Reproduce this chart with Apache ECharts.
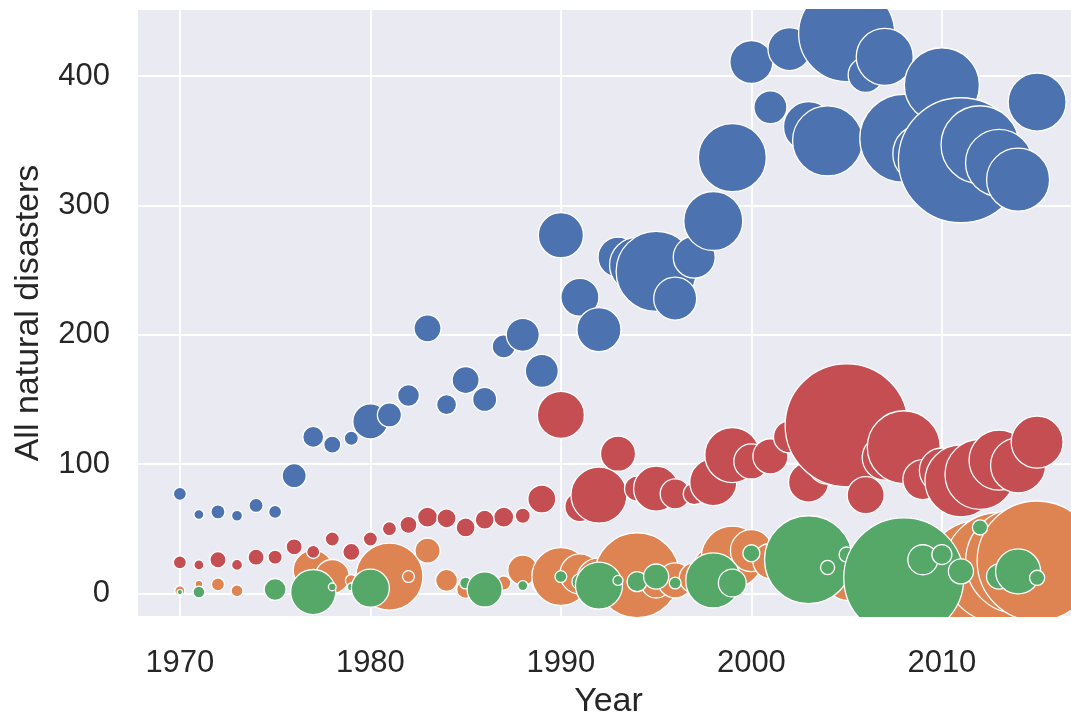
<!DOCTYPE html>
<html>
<head>
<meta charset="utf-8">
<script src="https://cdn.jsdelivr.net/npm/echarts@6/dist/echarts.min.js"></script>
<style>html,body{margin:0;padding:0;background:#fff;}#c{width:1071px;height:714px;}</style>
</head>
<body>
<div id="c"></div>
<script>
// Years 1970..2015
const years = [1970,1971,1972,1973,1974,1975,1976,1977,1978,1979,1980,1981,1982,1983,1984,1985,1986,1987,1988,1989,1990,1991,1992,1993,1994,1995,1996,1997,1998,1999,2000,2001,2002,2003,2004,2005,2006,2007,2008,2009,2010,2011,2012,2013,2014,2015];

// Series values (counts)
const blueValues = [77,61,63,60,68,63,91,121,115,120,133,138,153,205,146,165,150,191,200,172,277,229,204,260,254,249,228,260,288,337,411,376,421,361,350,433,401,415,352,340,393,335,347,333,320,380];
const orangeValues = [2,7,7,2,3,3,5,18,13,10,8,13,13,33,10,3,5,8,18,8,13,15,10,12,14,8,10,12,20,28,33,25,24,20,15,10,15,20,12,10,15,10,12,20,25,25];
const redValues = [24,22,26,22,28,28,36,32,42,32,42,50,53,59,58,51,57,59,60,73,138,67,76,108,81,81,77,77,86,107,102,106,121,86,100,130,76,105,113,88,95,87,92,103,99,117];
const greenValues = [1,1,0,0,0,3,1,1,5,5,4,3,2,3,4,8,3,4,6,5,13,9,6,10,9,13,8,12,10,8,31,20,18,26,20,30,15,18,12,26,30,17,51,13,17,12];

// Bubble magnitudes (area proportional)
const blueMagnitude = [1.7,1.0,2.0,1.2,2.0,1.7,5.8,4.4,2.9,2.0,12.3,5.8,4.8,7.3,4.0,7.3,5.8,5.3,10.9,10.9,20.3,14.4,19.4,16,30.3,64,18.5,17.6,34.8,46.2,18.5,10.9,18.5,25,49,92.2,12.3,32.5,77.4,36,56.3,156.3,60.8,44.9,39.7,33.6];
const orangeMagnitude = [1.0,0.6,1.7,1.4,0,1.0,0,16,11.6,1.4,9,44.9,1.4,6.3,4.8,3.2,4,2,9,4,33.6,16,20.3,12.3,72.3,9,12.3,9,16,38.4,17.6,12.3,9,16,16,16,9,16,20.3,25,49,100,132,121,110,144];
const redMagnitude = [1.7,1.0,2.6,1.2,2.6,2.0,2.6,1.7,2.0,2.9,2.0,2.0,2.9,4.0,3.6,3.6,3.6,4.0,2.3,7.8,22.1,9,31.4,12.3,6.3,20.3,9,4.8,22.1,30.3,12.3,12.3,10.2,16,16,151.3,13.7,20.3,53.3,16,20.3,51.8,49,36,30.3,27];
const greenMagnitude = [0.3,1.4,0,0,0,4.8,0,20.3,0.6,0.6,14.4,0,0,0,0,1.4,12.3,0,1.0,0,1.4,2.6,22.1,1.0,4,6.3,1.4,2,30.3,7.8,2.9,1.0,1.4,77.4,2,2.3,1.0,1.4,144,9,4,6.3,2.3,6.3,20.3,2.3];

const xTickLabels = ['1970','1980','1990','2000','2010'];
const yTickLabels = ['0','100','200','300','400'];

function pts(vals, mags){ return years.map((y,i)=>[y, vals[i], mags[i]]); }

const TXT = '#262626';
const FONT = 'Liberation Sans, Arial, Helvetica, sans-serif';

const chart = echarts.init(document.getElementById('c'), null, {renderer:'canvas'});

function bubble(name, color, vals, mags, z){
  return {
    name, type:'scatter', xAxisIndex:0, yAxisIndex:0, z,
    data: pts(vals, mags),
    symbolSize: d => Math.sqrt(d[2]) * 10,
    itemStyle: { color, borderColor:'#ffffff', borderWidth:1.3, opacity:1 },
    emphasis: { disabled:true },
    animation:false
  };
}

const xBase = {type:'value', min:1967.75, max:2017.25, gridIndex:0};
const yBase = {type:'value', min:-18.3, max:452, gridIndex:0};

chart.setOption({
  animation:false,
  backgroundColor:'#ffffff',
  grid:{ left:137, top:9, bottom:97, right:-9, show:true, backgroundColor:'#EAEAF2', borderWidth:0, containLabel:false, outerBoundsMode:'none' },
  xAxis:[
    Object.assign({}, xBase, {
      z:0, axisLine:{show:false}, axisTick:{show:false}, axisLabel:{show:false},
      splitLine:{show:true, lineStyle:{color:'#ffffff', width:1.8}}
    }),
    Object.assign({}, xBase, {
      z:20, position:'bottom', axisLine:{show:false}, axisTick:{show:false}, splitLine:{show:false},
      axisLabel:{show:true, showMinLabel:false, showMaxLabel:false, margin:31, color:TXT, fontSize:31, fontFamily:FONT,
        formatter: v => { const s = String(Math.round(v)); return (Math.abs(v-Math.round(v))<1e-6 && xTickLabels.indexOf(s)>=0) ? s : ''; } },
      name:'Year', nameLocation:'middle', nameGap:68, nameTextStyle:{color:TXT, fontSize:34, fontFamily:FONT}
    })
  ],
  yAxis:[
    Object.assign({}, yBase, {
      z:0, axisLine:{show:false}, axisTick:{show:false}, axisLabel:{show:false},
      splitLine:{show:true, lineStyle:{color:'#ffffff', width:1.8}}
    }),
    Object.assign({}, yBase, {
      z:20, position:'left', axisLine:{show:false}, axisTick:{show:false}, splitLine:{show:false},
      axisLabel:{show:true, showMinLabel:false, showMaxLabel:false, margin:27, color:TXT, fontSize:31, fontFamily:FONT,
        formatter: v => { const s = String(Math.round(v)); return (Math.abs(v-Math.round(v))<1e-6 && yTickLabels.indexOf(s)>=0) ? s : ''; } },
      name:'All natural disasters', nameLocation:'middle', nameGap:91, nameTextStyle:{color:TXT, fontSize:34, fontFamily:FONT}
    })
  ],
  graphic:[
    {type:'rect', z:10, silent:true, shape:{x:0, y:0, width:1071, height:9}, style:{fill:'#ffffff'}},
    {type:'rect', z:10, silent:true, shape:{x:0, y:617, width:1071, height:97}, style:{fill:'#ffffff'}},
    {type:'rect', z:10, silent:true, shape:{x:0, y:0, width:137, height:714}, style:{fill:'#ffffff'}}
  ],
  series:[
    bubble('All natural disasters', '#4C72B0', blueValues, blueMagnitude, 2),
    bubble('Series B', '#DD8452', orangeValues, orangeMagnitude, 3),
    bubble('Series C', '#C44E52', redValues, redMagnitude, 4),
    bubble('Series D', '#55A868', greenValues, greenMagnitude, 5)
  ]
});
</script>
</body>
</html>
